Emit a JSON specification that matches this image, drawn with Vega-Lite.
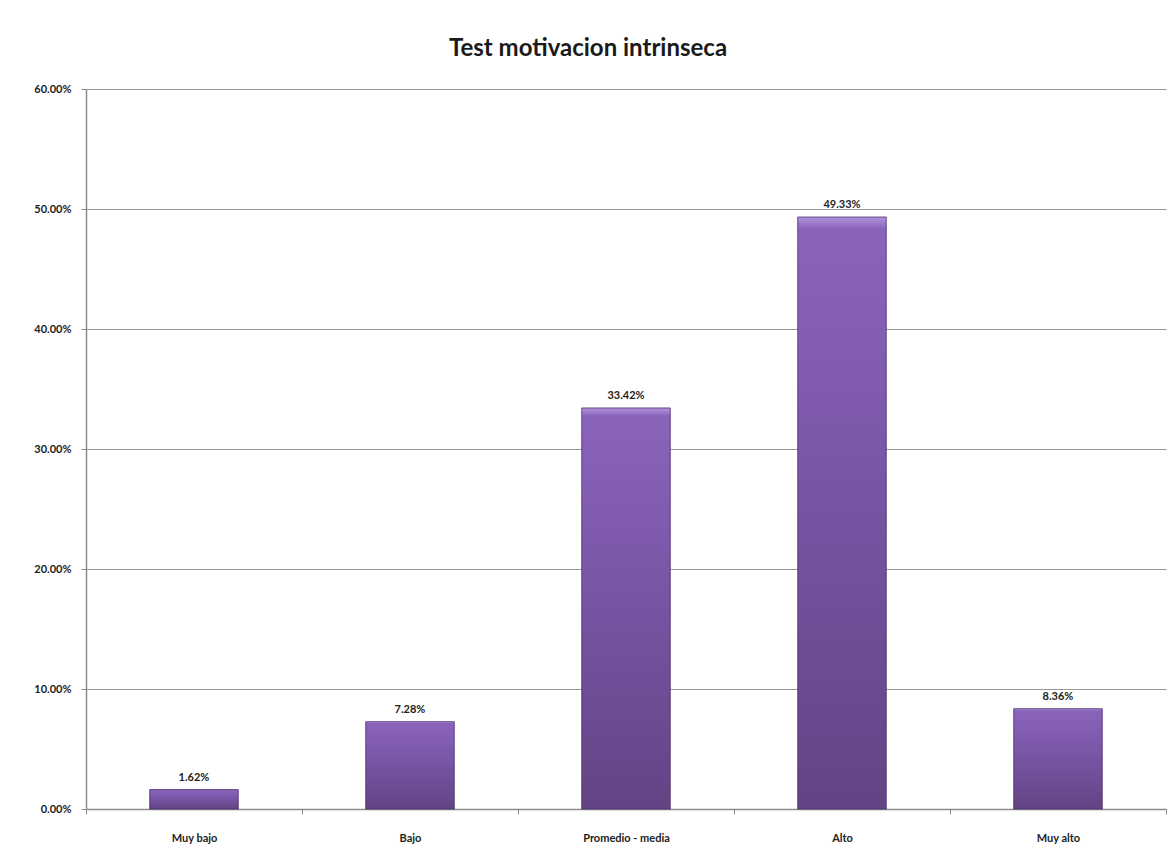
{
  "$schema": "https://vega.github.io/schema/vega-lite/v6.json",
  "width": 1080,
  "height": 720,
  "autosize": {"type": "none"},
  "padding": {"left": 86, "top": 89, "right": 10, "bottom": 51},
  "background": "white",
  "title": {
    "text": "Test motivacion intrinseca",
    "font": "Lato",
    "fontSize": 24,
    "fontWeight": "bold",
    "color": "#1a1a1a",
    "anchor": "middle",
    "dx": -38,
    "offset": 22
  },
  "data": {
    "values": [
      {"nivel": "Muy bajo", "pct": 0.0162},
      {"nivel": "Bajo", "pct": 0.0728},
      {"nivel": "Promedio - media", "pct": 0.3342},
      {"nivel": "Alto", "pct": 0.4933},
      {"nivel": "Muy alto", "pct": 0.0836}
    ]
  },
  "config": {
    "view": {"stroke": null},
    "axis": {
      "labelFont": "Lato",
      "labelFontWeight": "bold",
      "labelFontSize": 11,
      "labelColor": "#222222",
      "domainColor": "#8c8c8c",
      "tickColor": "#8c8c8c",
      "gridColor": "#9a9a9a",
      "title": null
    }
  },
  "encoding": {
    "x": {
      "field": "nivel",
      "type": "nominal",
      "sort": null,
      "scale": {"paddingInner": 0, "paddingOuter": 0},
      "axis": {
        "labelAngle": 0,
        "labelPadding": 18,
        "tickSize": 5,
        "tickBand": "extent",
        "grid": false,
        "domainWidth": 1.5
      }
    },
    "y": {
      "field": "pct",
      "type": "quantitative",
      "scale": {"domain": [0, 0.6], "nice": false},
      "axis": {
        "values": [0, 0.1, 0.2, 0.3, 0.4, 0.5, 0.6],
        "format": ".2%",
        "tickSize": 5,
        "labelPadding": 10,
        "grid": true,
        "gridWidth": 1.2,
        "domainWidth": 1.5
      }
    }
  },
  "layer": [
    {
      "mark": {
        "type": "bar",
        "width": {"band": 0.41},
        "stroke": "#4a2f6a",
        "strokeWidth": 0.8,
        "color": {
          "gradient": "linear",
          "x1": 0, "y1": 0, "x2": 0, "y2": 1,
          "stops": [
            {"offset": 0, "color": "#b294dc"},
            {"offset": 0.02, "color": "#8a64bb"},
            {"offset": 0.3, "color": "#7f5aae"},
            {"offset": 1, "color": "#624484"}
          ]
        }
      }
    },
    {
      "mark": {
        "type": "text",
        "dy": -12,
        "font": "Lato",
        "fontWeight": "bold",
        "fontSize": 11,
        "color": "#222222"
      },
      "encoding": {
        "text": {"field": "pct", "type": "quantitative", "format": ".2%"}
      }
    }
  ]
}
